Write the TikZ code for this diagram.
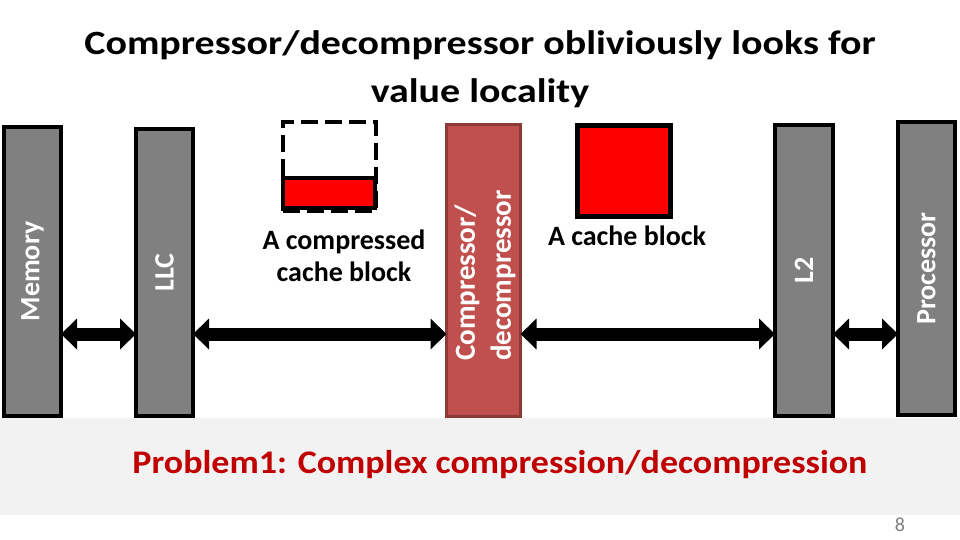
\documentclass[tikz,border=0pt]{standalone}
\usepackage{fontspec}
\setmainfont{Carlito}
\newfontfamily\titlefont[FakeStretch=1.175]{Carlito}
\newfontfamily\probfont[FakeStretch=1.09]{Carlito}
\usetikzlibrary{arrows.meta}
\definecolor{boxgray}{HTML}{808080}
\definecolor{compfill}{HTML}{C0504D}
\definecolor{compdraw}{HTML}{8C3A38}
\definecolor{bandgray}{HTML}{F2F2F2}
\definecolor{probred}{HTML}{C00000}
\definecolor{pagegray}{HTML}{808080}
\tikzset{
  unitbox/.style={draw=black, fill=boxgray, line width=4pt, inner sep=0pt, outer sep=0pt},
  compbox/.style={draw=compdraw, fill=compfill, line width=3pt, inner sep=0pt, outer sep=0pt},
  vlabel/.style={rotate=90, text=white, font=\bfseries\fontsize{28}{32}\selectfont, inner sep=0pt},
  biarrow/.style={line width=13pt, {Triangle[length=16pt,width=30pt]}-{Triangle[length=16pt,width=30pt]}},
  caption/.style={align=center, font=\bfseries\fontsize{28}{32}\selectfont, inner sep=0pt},
}
\begin{document}
\begin{tikzpicture}[x=1pt, y=-1pt]
\useasboundingbox (0,0) rectangle (960,540);
\fill[white] (0,0) rectangle (960,540);
% grey band
\fill[bandgray] (0,418) rectangle (960,515);
% title
\node[align=center, font=\titlefont\bfseries\fontsize{34}{48}\selectfont, inner sep=0pt] (title) at (480,69) {Compressor/decompressor obliviously looks for\\value locality};
% boxes
\node[unitbox, minimum width=57pt, minimum height=289pt] (mem) at (32.5,271.5) {};
\node[unitbox, minimum width=57pt, minimum height=287pt] (llc) at (164.5,272.5) {};
\node[compbox, minimum width=74pt, minimum height=292pt] (comp) at (483.5,270.5) {};
\node[unitbox, minimum width=58pt, minimum height=291pt] (l2) at (804,270.5) {};
\node[unitbox, minimum width=57pt, minimum height=293pt] (proc) at (926.5,268.5) {};
% labels
\node[vlabel] (memlab) at (mem.center) {Memory};
\node[vlabel] (llclab) at (llc.center) {LLC};
\node[vlabel] (l2lab) at (l2.center) {L2};
\node[vlabel] (proclab) at (proc.center) {Processor};
\node[vlabel, align=left, anchor=west, font=\bfseries\fontsize{29}{36}\selectfont] (complab) at (485,361) {Compressor/\\decompressor};
% arrows
\draw[biarrow] ([yshift=-62.5pt]mem.east) -- ([yshift=-61.5pt]llc.west);
\draw[biarrow] ([yshift=-61.5pt]llc.east) -- ([yshift=-63.5pt]comp.west);
\draw[biarrow] ([yshift=-63.5pt]comp.east) -- ([yshift=-63.5pt]l2.west);
\draw[biarrow] ([yshift=-63.5pt]l2.east) -- ([yshift=-65.5pt]proc.west);
% compressed block
\node[draw=black, line width=4pt, dash pattern=on 17pt off 7pt, minimum width=93pt, minimum height=89pt, inner sep=0pt] (cslot) at (329.5,166.5) {};
\node[draw=black, fill=red, line width=4pt, minimum width=92pt, minimum height=30pt, inner sep=0pt] (cdata) at (329,193) {};
\node[caption] (ccap) at (344,256) {A compressed\\cache block};
% cache block
\node[draw=black, fill=red, line width=5pt, minimum width=93pt, minimum height=91pt, inner sep=0pt] (blk) at (624,171) {};
\node[caption] (bcap) at (627,236) {A cache block};
% problem
\node[text=probred, font=\probfont\bfseries\fontsize{33}{38}\selectfont, inner sep=0pt] (prob) at (500,465) {Problem1: Complex compression/decompression};
\node[text=pagegray, font=\fontsize{20}{22}\selectfont, inner sep=0pt] (page) at (900,525) {8};
\end{tikzpicture}
\end{document}
